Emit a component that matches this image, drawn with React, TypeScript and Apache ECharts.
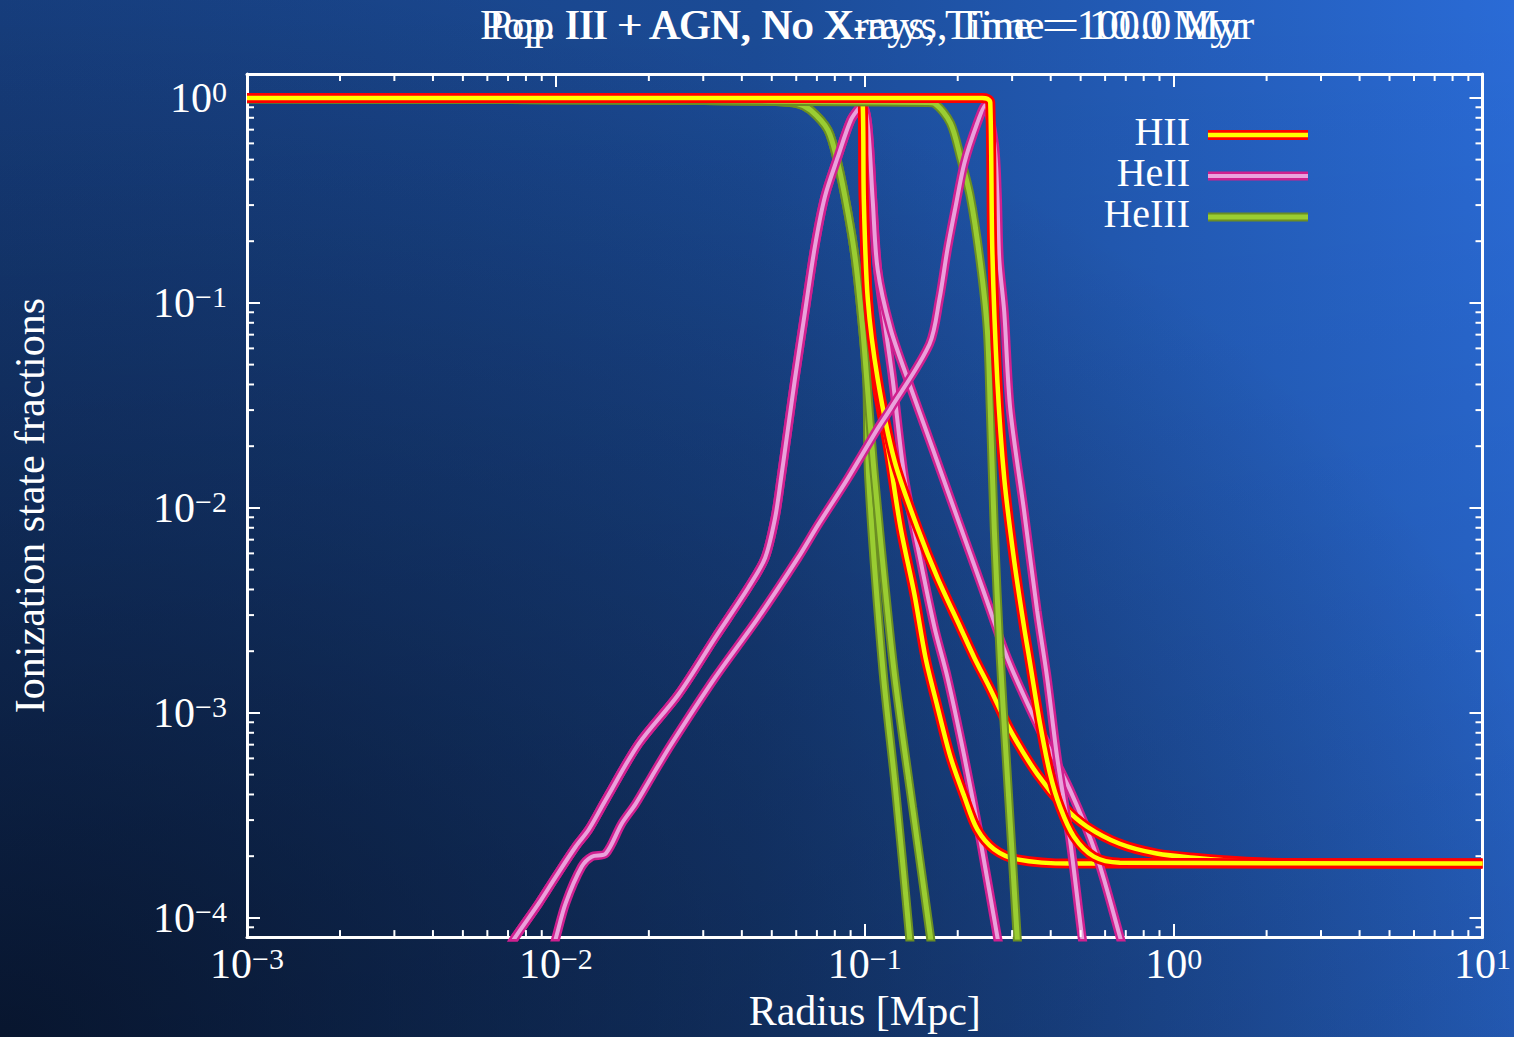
import React, { useEffect, useRef } from "react";
import * as echarts from "echarts";

// ---------- texts ----------
const titleTexts = [
  "Pop III + AGN, No X-rays, Time = 10.0 Myr",
  "Pop. III + AGN, No Xrays, Time = 100.0 Myr",
];
const xAxisTitle = "Radius [Mpc]";
const yAxisTitle = "Ionization state fractions";
const legendLabels = ["HII", "HeII", "HeIII"];

// ---------- axis ranges / ticks ----------
const xMin = 0.001;
const xMax = 10;
const yMin = 8.06e-5;
const yMax = 1.308;
const minorMultipliers = [2, 3, 4, 5, 6, 7, 8, 9];
const xDecades = [0.001, 0.01, 0.1, 1];
const yDecades = [0.00001, 0.0001, 0.001, 0.01, 0.1, 1];

// ---------- data: [radius (Mpc), fraction] ----------
const hiiTop10: [number, number][] = [
  [0.001, 0.998], [0.09, 0.998], [0.096, 0.99], [0.0985, 0.94], [0.0993, 0.32], [0.1023, 0.104],
];
const hiiTail10a: [number, number][] = [
  [0.1085, 0.0426], [0.1186, 0.0202], [0.1307, 0.00797], [0.1449, 0.00377], [0.1573, 0.00186],
  [0.172, 0.00107], [0.1894, 0.00061], [0.2102, 0.00039], [0.2314, 0.00027], [0.2626, 0.000216],
  [0.3115, 0.000193], [0.4618, 0.000184], [10, 0.000184],
];
const hiiTail10b: [number, number][] = [
  [0.1101, 0.0426], [0.125, 0.01685], [0.1483, 0.00797], [0.172, 0.00456], [0.204, 0.00261],
  [0.2263, 0.00186], [0.2535, 0.00133], [0.2958, 0.000824], [0.3615, 0.000504], [0.4418, 0.000348],
  [0.5241, 0.000279], [0.6694, 0.00023], [0.8814, 0.000206], [1.186, 0.000196], [1.72, 0.000188],
  [2.5, 0.000185], [10, 0.000184],
];
const hii100: [number, number][] = [
  [0.001, 0.998], [0.24, 0.998], [0.2493, 0.99], [0.2549, 0.95], [0.2588, 0.1823], [0.2685, 0.0426],
  [0.2829, 0.01393], [0.3047, 0.00551], [0.3281, 0.00261], [0.3406, 0.00186], [0.3696, 0.000881],
  [0.3981, 0.000504], [0.4288, 0.000348], [0.4757, 0.000249], [0.5519, 0.000199], [0.6694, 0.000186],
  [10, 0.000184],
];

const heiiRise10: [number, number][] = [
  [0.00675, 6.5e-5], [0.00743, 8.15e-5], [0.00881, 0.000118], [0.01, 0.000159], [0.0116, 0.000223],
  [0.01278, 0.00027], [0.0145, 0.000377], [0.01852, 0.000705], [0.02493, 0.00123], [0.0328, 0.00233],
  [0.04195, 0.00408], [0.04757, 0.0057], [0.05124, 0.00891], [0.05358, 0.01393], [0.05643, 0.02437],
  [0.05943, 0.0426], [0.06403, 0.0901], [0.06896, 0.1884], [0.0743, 0.3296], [0.08182, 0.515],
  [0.09013, 0.779], [0.09636, 0.901], [0.0985, 0.92], [0.1023, 0.736], [0.1061, 0.318], [0.1101, 0.1455],
];
const heiiFall10a: [number, number][] = [
  [0.1169, 0.0745], [0.1231, 0.0426], [0.1346, 0.01393], [0.1516, 0.00551], [0.1682, 0.00261],
  [0.1852, 0.00149], [0.2102, 0.00061], [0.2366, 0.000241], [0.2685, 8.15e-5], [0.2766, 6.5e-5],
];
const heiiFall10b: [number, number][] = [
  [0.1213, 0.0745], [0.1376, 0.0426], [0.1658, 0.0195], [0.1995, 0.00891], [0.2402, 0.00408],
  [0.2893, 0.00186], [0.3615, 0.000881], [0.4618, 0.000421], [0.5644, 0.000199], [0.6694, 8.15e-5],
  [0.695, 6.5e-5],
];
const heii100: [number, number][] = [
  [0.00964, 6.5e-5], [0.01, 7.97e-5], [0.01076, 0.000118], [0.01213, 0.000178], [0.01307, 0.000199],
  [0.0145, 0.000206], [0.01633, 0.000288], [0.01812, 0.00036], [0.0204, 0.000487], [0.02366, 0.000705],
  [0.0328, 0.00149], [0.04517, 0.00291], [0.06078, 0.0057], [0.07052, 0.00824], [0.08816, 0.01393],
  [0.1101, 0.02437], [0.1213, 0.0305], [0.1621, 0.063], [0.1745, 0.1042], [0.1852, 0.1823],
  [0.1966, 0.2927], [0.2102, 0.482], [0.2314, 0.754], [0.2456, 0.92], [0.2626, 0.603],
  [0.2685, 0.3446], [0.2726, 0.163], [0.2829, 0.0901], [0.2958, 0.0305], [0.3281, 0.00964],
  [0.3615, 0.00315], [0.3893, 0.00149], [0.4195, 0.00061], [0.4618, 0.000241], [0.5048, 8.15e-5],
  [0.5163, 6.5e-5],
];

const heiiiTop10: [number, number][] = [
  [0.001, 0.99], [0.01, 0.98], [0.03, 0.97], [0.05, 0.962], [0.0608, 0.935], [0.0669, 0.87],
  [0.076, 0.697], [0.0818, 0.482], [0.0882, 0.2757], [0.0935, 0.1576], [0.0985, 0.0745], [0.1015, 0.0426],
];
const heiiiTail10a: [number, number][] = [
  [0.103, 0.0139], [0.1143, 0.00167], [0.1259, 0.000421], [0.1397, 8.06e-5], [0.1412, 6.5e-5],
];
const heiiiTail10b: [number, number][] = [
  [0.1077, 0.0139], [0.124, 0.00167], [0.1428, 0.000348], [0.1632, 8.06e-5], [0.166, 6.5e-5],
];
const heiii100: [number, number][] = [
  [0.001, 0.99], [0.01, 0.98], [0.03, 0.97], [0.08, 0.958], [0.16, 0.95], [0.1682, 0.94],
  [0.1894, 0.754], [0.204, 0.515], [0.2197, 0.3296], [0.2366, 0.1576], [0.2493, 0.0745],
  [0.2549, 0.0305], [0.2626, 0.00797], [0.2746, 0.00186], [0.287, 0.00061], [0.3115, 8.06e-5],
  [0.3137, 6.5e-5],
];

// ---------- styles ----------
const FONT = '"Liberation Serif", "Times New Roman", serif';
const kindStyle: Record<string, { outer: string; inner: string; ow: number; iw: number }> = {
  HII: { outer: "#ff0000", inner: "#ffff00", ow: 10, iw: 4.5 },
  HeII: { outer: "#d0208f", inner: "#eaa2dc", ow: 9, iw: 4 },
  HeIII: { outer: "#6b8e23", inner: "#9acd32", ow: 9, iw: 5 },
};

function curve(kind: string, data: [number, number][]) {
  const s = kindStyle[kind];
  const base = {
    type: "line",
    name: kind,
    data,
    symbol: "none",
    showSymbol: false,
    smooth: 0.3,
    silent: true,
    clip: true,
  };
  return [
    { ...base, lineStyle: { color: s.outer, width: s.ow } },
    { ...base, lineStyle: { color: s.inner, width: s.iw } },
  ];
}

function expLabel(v: number) {
  const e = Math.log10(v);
  const r = Math.round(e);
  if (Math.abs(e - r) > 1e-6) return "";
  const s = r < 0 ? "\u2212" + Math.abs(r) : String(r);
  return `{b|10}{s|${s}}`;
}

const labelRich = {
  b: { fontFamily: FONT, fontSize: 42, color: "#fff", lineHeight: 42 },
  s: { fontFamily: FONT, fontSize: 30, color: "#fff", lineHeight: 12, verticalAlign: "top" },
};

export default function App() {
  const ref = useRef<HTMLDivElement>(null);
  useEffect(() => {
    if (!ref.current) return;
    const chart = echarts.init(ref.current, null, { renderer: "svg" });

    const xMinor: number[] = [];
    xDecades.forEach((d) => minorMultipliers.forEach((m) => xMinor.push(m * d)));
    const yMinor: number[] = [];
    yDecades.forEach((d) =>
      minorMultipliers.forEach((m) => {
        const v = m * d;
        if (v > yMin && v < yMax) yMinor.push(v);
      })
    );

    const tickLine = { stroke: "#fff", lineWidth: 2 };
    const axisCommonLine = { show: true, onZero: false, lineStyle: { color: "#fff", width: 3 } };
    const axisCommonTick = { show: true, inside: true, length: 13, lineStyle: { color: "#fff", width: 2 } };

    const series: any[] = [
      ...curve("HeIII", [...heiiiTop10, ...heiiiTail10a]),
      ...curve("HeII", [...heiiRise10, ...heiiFall10a]),
      ...curve("HII", [...hiiTop10, ...hiiTail10a]),
      ...curve("HeIII", [...heiiiTop10, ...heiiiTail10b]),
      ...curve("HeII", [...heiiRise10, ...heiiFall10b]),
      ...curve("HII", [...hiiTop10, ...hiiTail10b]),
      ...curve("HeIII", heiii100),
      ...curve("HeII", heii100),
      ...curve("HII", hii100),
      {
        type: "custom",
        name: "xMinorTicks",
        silent: true,
        clip: false,
        z: 10,
        data: xMinor.map((v) => [v, 1]),
        renderItem: (params: any, api: any) => {
          const px = api.coord([api.value(0), 1])[0];
          const cs = params.coordSys;
          return {
            type: "group",
            children: [
              { type: "line", shape: { x1: px, y1: cs.y + cs.height, x2: px, y2: cs.y + cs.height - 7 }, style: tickLine },
              { type: "line", shape: { x1: px, y1: cs.y, x2: px, y2: cs.y + 7 }, style: tickLine },
            ],
          };
        },
      },
      {
        type: "custom",
        name: "yMinorTicks",
        silent: true,
        clip: false,
        z: 10,
        data: yMinor.map((v) => [1, v]),
        renderItem: (params: any, api: any) => {
          const py = api.coord([1, api.value(1)])[1];
          const cs = params.coordSys;
          return {
            type: "group",
            children: [
              { type: "line", shape: { x1: cs.x, y1: py, x2: cs.x + 7, y2: py }, style: tickLine },
              { type: "line", shape: { x1: cs.x + cs.width, y1: py, x2: cs.x + cs.width - 7, y2: py }, style: tickLine },
            ],
          };
        },
      },
    ];

    const legendYs = [131, 172, 213];
    const legendKinds = ["HII", "HeII", "HeIII"];
    const graphics: any[] = [];
    titleTexts.forEach((t) =>
      graphics.push({
        type: "text",
        x: 867,
        y: 25,
        silent: true,
        style: { text: t, fill: "#fff", font: `42px ${FONT}`, textAlign: "center", textVerticalAlign: "middle" },
      })
    );
    legendLabels.forEach((lab, i) => {
      const s = kindStyle[legendKinds[i]];
      const y = legendYs[i];
      graphics.push({
        type: "text",
        x: 1190,
        y,
        silent: true,
        style: {
          text: lab,
          fill: "#fff",
          font: `40px ${FONT}`,
          textAlign: "right",
          textVerticalAlign: "middle",
        },
      });
      graphics.push({
        type: "line",
        silent: true,
        shape: { x1: 1208, y1: y + 4, x2: 1308, y2: y + 4 },
        style: { stroke: s.outer, lineWidth: s.ow },
      });
      graphics.push({
        type: "line",
        silent: true,
        shape: { x1: 1208, y1: y + 4, x2: 1308, y2: y + 4 },
        style: { stroke: s.inner, lineWidth: s.iw },
      });
    });

    chart.setOption({
      animation: false,
      backgroundColor: "transparent",
      grid: { left: 247, right: 27, top: 74, bottom: 96, containLabel: false },
      xAxis: [
        {
          type: "log",
          logBase: 10,
          min: xMin,
          max: xMax,
          position: "bottom",
          name: xAxisTitle,
          nameLocation: "middle",
          nameGap: 52,
          nameTextStyle: { fontFamily: FONT, fontSize: 42, color: "#fff" },
          axisLine: axisCommonLine,
          axisTick: axisCommonTick,
          splitLine: { show: false },
          axisLabel: { margin: 6, formatter: expLabel, rich: labelRich },
        },
        {
          type: "log",
          logBase: 10,
          min: xMin,
          max: xMax,
          position: "top",
          axisLine: axisCommonLine,
          axisTick: axisCommonTick,
          splitLine: { show: false },
          axisLabel: { show: false },
        },
      ],
      yAxis: [
        {
          type: "log",
          logBase: 10,
          min: yMin,
          max: yMax,
          position: "left",
          name: yAxisTitle,
          nameLocation: "middle",
          nameGap: 196,
          nameRotate: 90,
          nameTextStyle: { fontFamily: FONT, fontSize: 42, color: "#fff" },
          axisLine: axisCommonLine,
          axisTick: axisCommonTick,
          splitLine: { show: false },
          axisLabel: { margin: 20, formatter: expLabel, rich: labelRich, showMinLabel: false, showMaxLabel: false },
        },
        {
          type: "log",
          logBase: 10,
          min: yMin,
          max: yMax,
          position: "right",
          axisLine: axisCommonLine,
          axisTick: axisCommonTick,
          splitLine: { show: false },
          axisLabel: { show: false },
        },
      ],
      series,
      graphic: { elements: graphics },
    });
    return () => chart.dispose();
  }, []);

  return (
    <div
      ref={ref}
      style={{
        position: "fixed",
        left: 0,
        top: 0,
        width: 1514,
        height: 1037,
        background:
          "radial-gradient(ellipse at 0% 100%, rgba(3,8,20,0.7) 0%, rgba(3,8,20,0.35) 35%, rgba(3,8,20,0) 75%), " +
          "linear-gradient(to bottom, rgba(0,0,0,0) 0%, rgba(0,0,0,0.15) 100%), " +
          "linear-gradient(to right, #173f80 0%, #1b4b96 50%, #2a6bd6 100%)",
      }}
    />
  );
}
